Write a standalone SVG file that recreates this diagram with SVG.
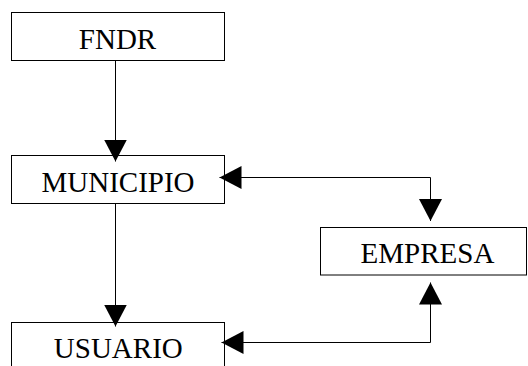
<svg xmlns="http://www.w3.org/2000/svg" width="528" height="366" viewBox="0 0 528 366">
<style>
.box{fill:#fff;stroke:#000;stroke-width:1}
.lbl{font-family:"Liberation Serif","Times New Roman",serif;font-size:29px;fill:#000;text-anchor:middle}
.con{fill:none;stroke:#000;stroke-width:1}
</style>
<defs>
<marker id="ah" markerUnits="userSpaceOnUse" markerWidth="23" markerHeight="23" refX="22" refY="11.5" orient="auto-start-reverse" viewBox="0 0 23 23">
<path d="M0,0 L22,11.5 L0,23 z" fill="#000"/>
</marker>
</defs>
<rect width="528" height="366" fill="#fff"/>
<g id="fndr"><rect class="box" x="11.5" y="12.5" width="213" height="48"/><text class="lbl" x="117.5" y="49">FNDR</text></g>
<g id="municipio"><rect class="box" x="11.5" y="155.5" width="213" height="48"/><text class="lbl" x="118" y="192">MUNICIPIO</text></g>
<g id="empresa"><rect class="box" x="320.5" y="227.5" width="206" height="47.5"/><text class="lbl" x="427.5" y="263">EMPRESA</text></g>
<g id="usuario"><rect class="box" x="11.5" y="322.5" width="213" height="60"/><text class="lbl" x="118.3" y="358">USUARIO</text></g>
<g id="connectors">
<path class="con" d="M115.5,60.5 V161.5" marker-end="url(#ah)"/>
<path class="con" d="M115.5,203.5 V326.5" marker-end="url(#ah)"/>
<path class="con" d="M219.5,177.5 H430.5 V221" marker-start="url(#ah)" marker-end="url(#ah)"/>
<path class="con" d="M221.5,342.5 H430.5 V282.5" marker-start="url(#ah)" marker-end="url(#ah)"/>
</g>
</svg>
